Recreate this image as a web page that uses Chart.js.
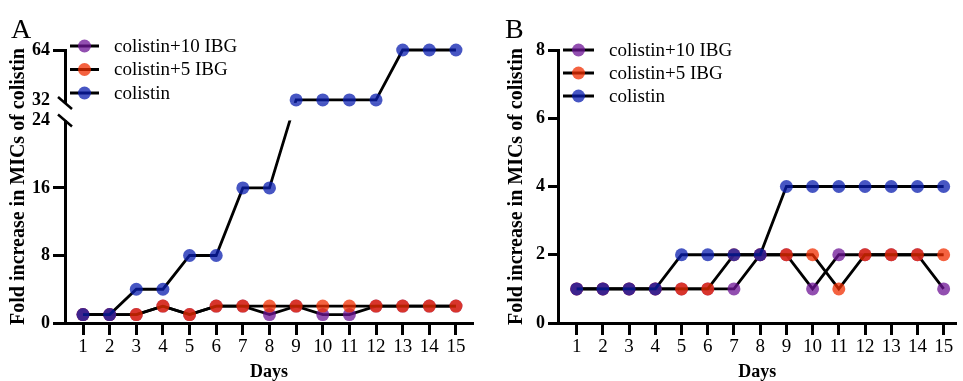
<!DOCTYPE html>
<html>
<head>
<meta charset="utf-8">
<script src="https://cdn.jsdelivr.net/npm/chart.js@4.4.0/dist/chart.umd.min.js"></script>
<style>
  html, body { margin: 0; padding: 0; background: #fff; }
  #wrap { position: relative; width: 963px; height: 381px; }
  #chartA { position: absolute; left: 0; top: 0; }
  #chartB { position: absolute; left: 480px; top: 0; }
</style>
</head>
<body>
<div id="wrap">
  <canvas id="chartA" width="480" height="381"></canvas>
  <canvas id="chartB" width="483" height="381"></canvas>
</div>
<script>
const days = [1, 2, 3, 4, 5, 6, 7, 8, 9, 10, 11, 12, 13, 14, 15];
const seriesNames = ['colistin+10 IBG', 'colistin+5 IBG', 'colistin'];

// panel A
const aIbg10 = [1, 1, 1, 2, 1, 2, 2, 1, 2, 1, 1, 2, 2, 2, 2];
const aIbg5 = [1, 1, 1, 2, 1, 2, 2, 2, 2, 2, 2, 2, 2, 2, 2];
const aColistin = [1, 1, 4, 4, 8, 8, 16, 16, 32, 32, 32, 32, 64, 64, 64];
const aTicks = [0, 8, 16, 24, 32, 64];

// panel B
const bIbg10 = [1, 1, 1, 1, 1, 1, 1, 2, 2, 1, 2, 2, 2, 2, 1];
const bIbg5 = [1, 1, 1, 1, 1, 1, 2, 2, 2, 2, 1, 2, 2, 2, 2];
const bColistin = [1, 1, 1, 1, 2, 2, 2, 2, 4, 4, 4, 4, 4, 4, 4];
const bTicks = [0, 2, 4, 6, 8];

const colors = ['rgba(110,20,150,0.75)', 'rgba(240,45,0,0.75)', 'rgba(10,30,175,0.75)'];
const serif = "'Liberation Serif', 'Times New Roman', serif";

// broken y axis for panel A: 0-24 low part, 32-64 high part
const BRK_LOW = 24, BRK_HIGH = 32;
const LOW_FRAC = 0.742, HIGH_FRAC = 0.817;

class BrokenScale extends Chart.LinearScale {
  getPixelForValue(value) {
    let f;
    if (value <= BRK_LOW) f = value / BRK_LOW * LOW_FRAC;
    else if (value >= BRK_HIGH) f = HIGH_FRAC + (value - BRK_HIGH) / (this.max - BRK_HIGH) * (1 - HIGH_FRAC);
    else f = LOW_FRAC + (value - BRK_LOW) / (BRK_HIGH - BRK_LOW) * (HIGH_FRAC - LOW_FRAC);
    return this.getPixelForDecimal(f);
  }
}
BrokenScale.id = 'broken';
BrokenScale.defaults = Chart.LinearScale.defaults;
Chart.register(BrokenScale);

Chart.defaults.color = '#000';
Chart.defaults.font.family = serif;

function makeSets(v10, v5, vc) {
  return [v10, v5, vc].map((vals, i) => ({
    label: seriesNames[i],
    data: days.map((d, j) => ({ x: d, y: vals[j] })),
    borderColor: '#000',
    borderWidth: 2.8,
    backgroundColor: colors[i],
    pointBackgroundColor: colors[i],
    pointBorderWidth: 0,
    pointRadius: 6.5,
    tension: 0,
    clip: false,
    order: 2 - i
  }));
}

// legend: line with dot, drawn inside the plot
const lineLegend = {
  id: 'lineLegend',
  afterDraw(chart, args, opts) {
    const ctx = chart.ctx;
    ctx.save();
    ctx.font = '19px ' + serif;
    ctx.textBaseline = 'middle';
    chart.data.datasets.forEach((ds, i) => {
      const y = opts.y + i * opts.dy;
      ctx.strokeStyle = '#000';
      ctx.lineWidth = 3;
      ctx.beginPath();
      ctx.moveTo(opts.x, y);
      ctx.lineTo(opts.x + opts.w, y);
      ctx.stroke();
      ctx.fillStyle = ds.backgroundColor;
      ctx.beginPath();
      ctx.arc(opts.x + opts.w / 2, y, 6.5, 0, Math.PI * 2);
      ctx.fill();
      ctx.fillStyle = '#000';
      ctx.fillText(ds.label, opts.tx, y + 1);
    });
    ctx.font = '28px ' + serif;
    ctx.textBaseline = 'alphabetic';
    ctx.fillText(opts.letter, opts.lx, 38);
    ctx.restore();
  }
};

// hide the gap between 24 and 32 and draw the break marks
const axisBreak = {
  id: 'axisBreak',
  afterDatasetsDraw(chart) {
    const ctx = chart.ctx;
    const area = chart.chartArea;
    const ys = chart.scales.y;
    const yLow = ys.getPixelForValue(BRK_LOW);
    const yHigh = ys.getPixelForValue(BRK_HIGH) + 3;
    ctx.save();
    ctx.fillStyle = '#fff';
    ctx.fillRect(area.left - 4, yHigh, area.right - area.left + 4, yLow - yHigh);
    ctx.beginPath();
    ctx.rect(area.left, yHigh, area.right - area.left, yLow - yHigh);
    ctx.clip();
    chart.getSortedVisibleDatasetMetas().slice().reverse().forEach(meta => {
      meta.data.forEach(pt => pt.draw(ctx));
    });
    ctx.restore();
    ctx.save();
    ctx.strokeStyle = '#000';
    ctx.lineWidth = 2.5;
    [yHigh, yLow].forEach(y => {
      ctx.beginPath();
      ctx.moveTo(area.left - 7, y - 6);
      ctx.lineTo(area.left + 7, y + 6);
      ctx.stroke();
    });
    ctx.restore();
  }
};

function makeOptions(cfg) {
  return {
    responsive: false,
    animation: false,
    layout: { padding: { top: 50, right: cfg.padRight, left: 0, bottom: 0 } },
    plugins: {
      legend: { display: false },
      tooltip: { enabled: false },
      lineLegend: cfg.legend
    },
    scales: {
      x: {
        type: 'linear',
        min: cfg.xMin,
        max: cfg.xMax,
        afterBuildTicks: s => { s.ticks = days.map(v => ({ value: v })); },
        afterFit: s => { s.height = 58; },
        ticks: { font: { size: 19 }, padding: 1, maxRotation: 0, callback: v => String(v) },
        grid: { drawOnChartArea: false, tickLength: 12, tickWidth: 3, tickColor: '#000' },
        border: { color: '#000', width: 3 },
        title: { display: true, text: 'Days', font: { size: 18, weight: 'bold', lineHeight: 1 }, padding: { top: 0, bottom: 0 } }
      },
      y: {
        type: cfg.yType,
        min: 0,
        max: cfg.yMax,
        afterBuildTicks: s => { s.ticks = cfg.yTicks.map(v => ({ value: v })); },
        afterFit: s => { s.width = cfg.yWidth; },
        ticks: { font: { size: 18, weight: 'bold' }, padding: 3, callback: v => String(v) },
        grid: {
          drawOnChartArea: false,
          tickLength: cfg.tickLen,
          tickWidth: 3,
          tickColor: c => (cfg.hideTicks.includes(c.tick && c.tick.value) ? 'rgba(0,0,0,0)' : '#000')
        },
        border: { color: '#000', width: 3 },
        title: {
          display: true,
          text: 'Fold increase in MICs of colistin',
          font: { size: 20, weight: 'bold', lineHeight: 1.2 },
          padding: { top: cfg.titlePad, bottom: 0 }
        }
      }
    }
  };
}

new Chart(document.getElementById('chartA'), {
  type: 'line',
  data: { datasets: makeSets(aIbg10, aIbg5, aColistin) },
  options: makeOptions({
    padRight: 7, xMin: 0.324, xMax: 15.64,
    yType: 'broken', yMax: 64, yTicks: aTicks, yWidth: 65, tickLen: 12,
    hideTicks: [24, 32], titlePad: 7,
    legend: { x: 70, y: 46, dy: 23.5, w: 29, tx: 114, letter: 'A', lx: 11 }
  }),
  plugins: [lineLegend, axisBreak]
});

new Chart(document.getElementById('chartB'), {
  type: 'line',
  data: { datasets: makeSets(bIbg10, bIbg5, bColistin) },
  options: makeOptions({
    padRight: 0, xMin: 0.287, xMax: 15.49,
    yType: 'linear', yMax: 8, yTicks: bTicks, yWidth: 78, tickLen: 10,
    hideTicks: [], titlePad: 25,
    legend: { x: 83, y: 50, dy: 23, w: 31, tx: 129, letter: 'B', lx: 25 }
  }),
  plugins: [lineLegend]
});
</script>
</body>
</html>
